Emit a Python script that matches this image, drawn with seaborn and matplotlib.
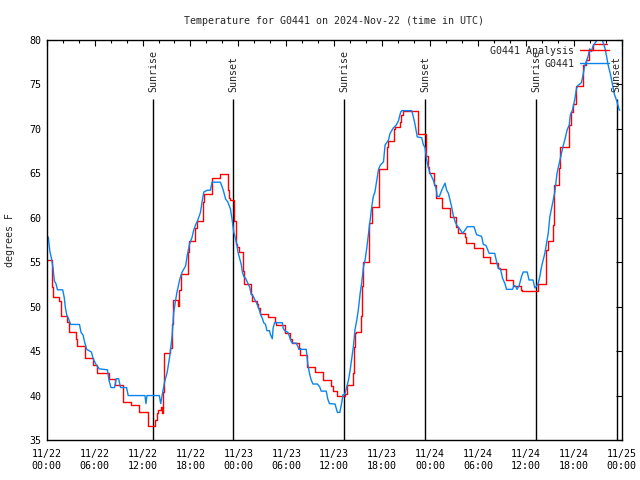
import matplotlib
matplotlib.use('Agg')
import matplotlib.pyplot as plt
import seaborn as sns
import pandas as pd
from matplotlib.ticker import MultipleLocator

# hours since 2024-11-22 00:00 UTC, temperature in F
obs_hours = [0.0, 0.2, 0.4, 0.6, 0.8, 0.95, 1.15, 1.35, 2.0, 2.2, 2.35, 2.5, 2.75, 3.0, 4.1, 4.3,
             4.55, 4.75, 5.0, 5.6, 5.8, 6.2, 6.6, 7.6, 7.8, 8.05, 8.5, 8.7, 9.0, 9.25, 10.0, 10.2,
             12.3, 12.43, 12.55, 14.1, 14.27, 14.45, 14.75, 15.08, 15.42, 15.7, 15.9, 16.1, 16.3,
             16.67, 16.96, 17.4, 17.58, 17.9, 18.2, 18.4, 18.6, 18.9, 19.25, 19.46, 19.67, 20.1,
             20.5, 20.7, 21.75, 21.96, 22.17, 22.4, 22.67, 23.0, 23.2, 23.42, 23.6, 23.83, 23.96,
             24.17, 24.37, 24.5, 24.67, 24.9, 25.2, 25.42, 25.6, 25.85, 26.04, 26.25, 26.46, 26.67,
             26.875, 27.0, 27.17, 27.4, 27.58, 27.9, 28.0, 28.25, 28.35, 28.54, 29.5, 29.6, 29.8,
             30.2, 30.42, 30.6, 30.75, 31.25, 31.46, 31.58, 32.5, 32.7, 32.9, 33.1, 33.33, 33.9,
             34.17, 34.37, 35.0, 35.2, 35.4, 36.1, 36.4, 36.7, 36.96, 37.1, 37.3, 37.4, 37.58, 37.8,
             38.0, 38.2, 38.4, 38.6, 38.83, 39.04, 39.25, 39.46, 39.67, 39.875, 40.08, 40.3, 40.7,
             40.9, 41.1, 41.54, 41.75, 42.17, 42.375, 42.8, 43.0, 43.4, 43.75, 44.04, 44.33, 44.46,
             45.7, 45.9, 46.1, 46.4, 46.96, 47.17, 47.375, 47.58, 47.8, 48.0, 48.4, 48.75, 48.9,
             49.17, 49.46, 49.875, 50.08, 50.3, 50.5, 50.7, 50.9, 51.125, 51.33, 51.75, 52.08,
             52.375, 52.67, 53.5, 53.83, 54.46, 54.67, 55.0, 55.4, 56.1, 56.33, 56.54, 56.83, 57.08,
             57.375, 57.58, 58.33, 58.5, 58.7, 58.9, 59.17, 59.46, 59.67, 60.17, 60.4, 60.9,
             61.125, 61.33, 61.54, 61.75, 61.96, 62.17, 62.375, 62.58, 62.8, 63.0, 63.33, 63.625,
             63.9, 64.17, 64.46, 64.67, 64.87, 65.17, 65.42, 65.58, 65.83, 66.125, 66.33, 66.54,
             66.96, 67.17, 67.37, 67.58, 67.8, 68.0, 68.2, 68.4, 68.8, 69.0, 69.3, 69.6, 69.9, 70.1,
             70.3, 70.6, 70.8, 71.1, 71.4, 71.66, 71.75]
obs_temp = [58.0, 57.8, 56.2, 55.4, 54.3, 52.9, 52.6, 51.9, 51.9, 51.0, 49.8, 49.1, 48.6, 48.0, 48.0, 47.1,
            46.8, 46.0, 45.2, 44.9, 44.2, 43.45, 43.0, 42.9, 41.7, 40.9, 40.9, 41.9, 41.9, 40.9, 40.9, 40.0,
            40.0, 39.1, 40.0, 40.0, 39.1, 40.0, 41.5, 42.6, 44.5, 46.7, 49.3, 50.5, 51.6,
            53.1, 53.9, 54.6, 55.7, 57.1, 57.8, 58.6, 59.1, 59.7, 60.6, 61.8, 62.9, 63.1,
            63.1, 64.0, 64.0, 63.5, 62.9, 62.1, 61.8, 61.0, 59.9, 58.4, 57.8, 56.9, 56.1,
            55.4, 54.7, 53.9, 53.4, 53.2, 52.6, 52.2, 51.4, 51.2, 50.8, 50.5, 50.0, 49.5,
            48.9, 48.7, 48.2, 48.0, 47.3, 47.3, 46.9, 46.4, 47.6, 48.2, 48.2, 47.6, 47.3,
            47.1, 46.6, 46.1, 45.9, 45.9, 45.5, 45.2, 45.2, 43.5, 42.5, 41.8, 41.3, 41.3,
            41.0, 40.5, 40.5, 39.6, 39.1, 39.05, 38.1, 38.1, 39.3, 40.1, 40.1, 40.4, 41.0, 41.8,
            42.9, 44.2, 45.5, 47.4, 48.5, 49.8, 51.5, 52.8, 54.5, 55.3, 56.6, 58.25, 61.25,
            62.4, 62.9, 65.4, 65.9, 66.3, 68.2, 68.75, 69.5, 70.1, 70.4, 70.9, 71.9, 72.05,
            72.05, 71.4, 70.6, 69.1, 69.0, 68.2, 67.9, 66.5, 65.6, 65.0, 64.25, 63.3, 62.4,
            62.4, 63.1, 63.9, 63.1, 62.75, 62.0, 61.25, 60.3, 59.6, 59.2, 58.7, 58.25,
            58.6, 59.0, 59.0, 58.1, 57.9, 57.0, 56.9, 56.0, 56.0, 55.06, 54.3, 54.2, 53.2,
            52.6, 51.95, 51.95, 52.4, 52.3, 51.95, 52.4, 53.4, 53.9, 53.9, 53.0, 53.0,
            52.1, 52.3, 52.6, 53.4, 54.5, 55.25, 56.0, 57.1, 58.25, 60.1, 61.6, 62.9,
            65.0, 66.1, 67.25, 68.1, 68.75, 69.9, 70.4, 71.6, 72.1, 73.3, 74.5, 74.9,
            75.2, 76.1, 77.1, 77.6, 78.2, 79.0, 78.7, 79.3, 79.85, 80.3, 80.3, 79.9, 79.1, 78.2,
            77.2, 76.1, 75.2, 73.85, 73.1, 72.2, 72.1]

# analysis: value holds from each hour until the next one
ana_hours = [0.0, 0.6, 0.7, 0.8, 1.6, 1.75, 2.6, 2.75, 3.7, 3.8, 4.75, 4.8, 5.8, 6.3, 7.75, 8.5,
             9.6, 10.5, 11.55, 12.65, 13.35, 13.55, 13.75, 13.95, 14.3, 14.45, 14.58, 14.7,
             15.45, 15.7, 15.8, 16.45, 16.6, 16.8, 17.65, 17.8, 18.55, 18.8, 19.6, 19.75, 20.7,
             21.75, 22.65, 22.8, 22.9, 23.45, 23.7, 23.8, 24.05, 24.55, 24.75, 25.55, 25.7, 26.3,
             26.5, 26.7, 27.7, 28.6, 28.75, 29.8, 30.5, 30.75, 31.55, 31.7, 32.55, 32.65, 33.6,
             34.6, 34.7, 35.55, 35.8, 36.4, 37.4, 37.6, 38.4, 38.5, 38.6, 38.7, 39.4, 39.45,
             39.6, 40.3, 40.4, 40.7, 41.55, 41.65, 42.55, 42.7, 43.5, 43.6, 44.2, 44.35, 44.6,
             46.5, 47.45, 47.55, 47.75, 47.9, 48.55, 48.7, 49.55, 50.55, 51.3, 51.5, 52.4, 52.55,
             53.55, 54.6, 55.55, 56.5, 56.7, 57.5, 58.4, 59.45, 59.55, 61.55, 62.5, 62.55, 62.75,
             63.45, 63.5, 64.15, 64.25, 65.35, 65.6, 65.9, 66.3, 67.2, 67.5, 67.9, 68.4, 70.1]
ana_temp = [55.3, 54.2, 52.2, 51.1, 50.6, 49.0, 48.3, 47.2, 46.4, 45.6, 44.6, 44.2, 43.4, 42.5, 41.9, 41.2,
            39.3, 38.9, 38.2, 36.6, 36.6, 37.3, 38.0, 38.4, 38.7, 38.0, 40.4, 44.8,
            45.3, 48.0, 50.7, 50.1, 51.9, 53.7, 56.1, 57.4, 58.9, 59.6, 61.8, 62.7, 64.5,
            64.9, 63.1, 62.2, 62.0, 59.6, 57.0, 56.7, 56.1, 54.0, 52.6, 51.4, 50.6, 50.3,
            49.9, 49.2, 48.8, 48.3, 47.9, 47.0, 46.4, 45.9, 45.4, 44.6, 43.9, 43.2, 42.6,
            41.8, 41.7, 41.1, 40.5, 40.0, 40.2, 41.2, 42.5, 45.5, 47.0, 47.2, 49.0, 52.3,
            55.0, 57.5, 59.4, 61.25, 63.5, 65.5, 68.0, 68.6, 70.0, 70.25, 70.8, 71.6, 72.05,
            69.4, 68.0, 66.9, 65.75, 65.0, 63.7, 62.2, 61.1, 60.1, 59.0, 58.25, 57.8, 57.2,
            56.6, 55.6, 54.9, 54.3, 54.2, 53.0, 52.3, 51.9, 51.8, 52.6, 54.9, 56.4, 57.4,
            59.2, 63.7, 65.6, 68.0, 70.4, 71.9, 72.8, 74.8, 77.2, 77.8, 78.9, 79.6, 79.6]

sun_hours = [13.35, 23.38, 37.28, 47.42, 61.33, 71.35]
sun_names = ['Sunrise', 'Sunset', 'Sunrise', 'Sunset', 'Sunrise', 'Sunset']

tick_hours = list(range(0, 73, 6))
tick_labels = ['11/22\n00:00', '11/22\n06:00', '11/22\n12:00', '11/22\n18:00',
               '11/23\n00:00', '11/23\n06:00', '11/23\n12:00', '11/23\n18:00',
               '11/24\n00:00', '11/24\n06:00', '11/24\n12:00', '11/24\n18:00',
               '11/25\n00:00']

df_obs = pd.DataFrame({'hour': obs_hours, 'temp': obs_temp})
df_ana = pd.DataFrame({'hour': ana_hours, 'temp': ana_temp})

sns.set_style('white')
plt.rcParams['font.family'] = ['DejaVu Sans Mono']
plt.rcParams['font.size'] = 7.2

fig = plt.figure(figsize=(6.4, 4.8), dpi=100)
ax = fig.add_axes([0.073, 0.0833, 0.8984, 0.8334])

for h, name in zip(sun_hours, sun_names):
    ax.vlines(h, 35, 73.4, color='black', lw=1.0, zorder=1)
    ax.text(h, 74.1, name, rotation=90, ha='center', va='bottom', fontsize=7.2)

sns.lineplot(data=df_ana, x='hour', y='temp', ax=ax, color='#ff0000', lw=1.0,
             drawstyle='steps-post', estimator=None, errorbar=None, label='G0441 Analysis')
sns.lineplot(data=df_obs, x='hour', y='temp', ax=ax, color='#0a84f0', lw=1.0,
             estimator=None, errorbar=None, label='G0441')

ax.set_xlim(0, 72)
ax.set_ylim(35, 80)
ax.set_xticks(tick_hours)
ax.set_xticklabels(tick_labels)
ax.xaxis.set_minor_locator(MultipleLocator(2))
ax.set_yticks(range(35, 81, 5))
ax.tick_params(which='both', direction='in', top=True, right=True, colors='black',
               labelsize=7.2)
ax.tick_params(which='major', length=4, width=0.8)
ax.tick_params(which='minor', length=2.2, width=0.8)
ax.tick_params(axis='x', pad=6.5)
ax.tick_params(axis='y', pad=4)
for s in ax.spines.values():
    s.set_color('black')
    s.set_linewidth(1.0)

ax.set_xlabel('')
ax.set_ylabel('degrees F', fontsize=7.2, labelpad=10)
ax.set_title('Temperature for G0441 on 2024-Nov-22 (time in UTC)', fontsize=7.2, pad=11.5)

ax.legend(loc='upper right', bbox_to_anchor=(0.978, 0.985), frameon=False, markerfirst=False,
          handlelength=2.9, handletextpad=0.6, labelspacing=0.3, borderpad=0, borderaxespad=0,
          fontsize=7.2)

fig.savefig('out.png', dpi=100)
